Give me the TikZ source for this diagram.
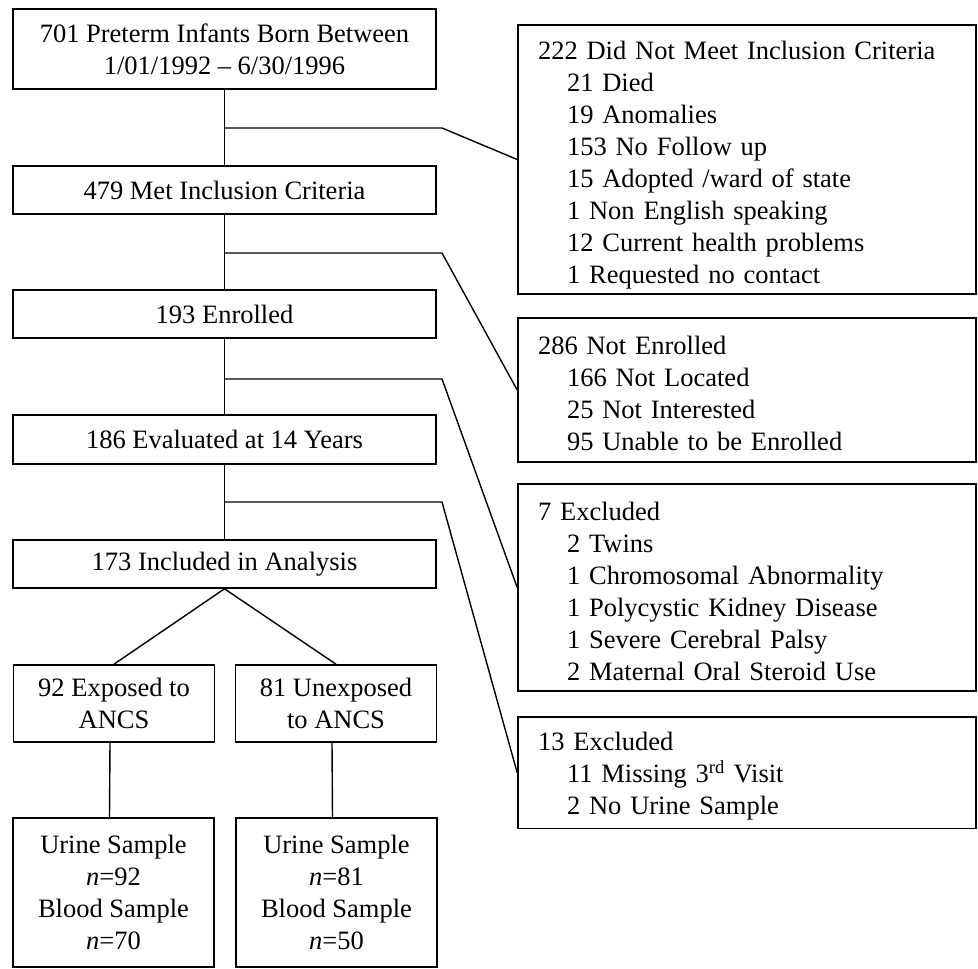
\documentclass[tikz,border=0pt]{standalone}
\usepackage{fontspec}
\setmainfont{Liberation Serif}
\newcommand{\indt}{\hspace*{29pt}}

\tikzset{
  mainbox/.style={draw, line width=1.6pt, minimum width=423pt, align=center, inner sep=0pt},
  sidebox/.style={draw, line width=1.6pt, minimum width=458pt, text width=418pt, inner xsep=20pt, inner ysep=0pt, align=left},
  subbox/.style={draw, line width=1.6pt, minimum width=201pt, align=center, inner sep=0pt},
  link/.style={line width=1.4pt}
}

\begin{document}
\begin{tikzpicture}[x=1pt, y=-1pt, font=\fontsize{26.5}{32}\selectfont]
\useasboundingbox (0,0) rectangle (978,969);
\node[mainbox, minimum height=80pt] (n701) at (224.5,49) {701 Preterm Infants Born Between\\1/01/1992 -- 6/30/1996};
\node[mainbox, minimum height=48pt] (n479) at (224.5,190) {479 Met Inclusion Criteria};
\node[mainbox, minimum height=48pt] (n193) at (224.5,314) {193 Enrolled};
\node[mainbox, minimum height=49pt] (n186) at (224.5,439.5) {186 Evaluated at 14 Years};
\node[mainbox, minimum height=48pt] (n173) at (224.5,564) {173 Included in Analysis};
\node[subbox, minimum height=77pt] (exp) at (114,703.5) {92 Exposed to\\ANCS};
\node[subbox, minimum height=77pt] (unexp) at (336,703.5) {81 Unexposed\\to ANCS};
\node[subbox, minimum height=149pt] (smpexp) at (113.5,892.5) {Urine Sample\\\textit{n}=92\\Blood Sample\\\textit{n}=70};
\node[subbox, minimum height=149pt] (smpunexp) at (336.5,892.5) {Urine Sample\\\textit{n}=81\\Blood Sample\\\textit{n}=50};

\node[sidebox, minimum height=269pt] (r222) at (747,159.5) {\rule{0pt}{30pt}222 Did Not Meet Inclusion Criteria\\\indt 21 Died\\\indt 19 Anomalies\\\indt 153 No Follow up\\\indt 15 Adopted /ward of state\\\indt 1 Non English speaking\\\indt 12 Current health problems\\\indt 1 Requested no contact};
\node[sidebox, minimum height=144pt] (r286) at (747,390) {\rule{0pt}{26pt}286 Not Enrolled\\\indt 166 Not Located\\\indt 25 Not Interested\\\indt 95 Unable to be Enrolled};
\node[sidebox, minimum height=207pt] (r7) at (747,587.5) {\rule{0pt}{26pt}7 Excluded\\\indt 2 Twins\\\indt 1 Chromosomal Abnormality\\\indt 1 Polycystic Kidney Disease\\\indt 1 Severe Cerebral Palsy\\\indt 2 Maternal Oral Steroid Use};
\node[sidebox, minimum height=111.5pt] (r13) at (747,772.75) {\rule{0pt}{26pt}13 Excluded\\\indt 11 Missing 3\textsuperscript{rd} Visit\\\indt 2 No Urine Sample};

\coordinate (j1) at (224.5,128);
\coordinate (j2) at (224.5,253);
\coordinate (j3) at (224.5,379);
\coordinate (j4) at (224.5,502);
\coordinate (k1) at (442,128);
\coordinate (k2) at (442,253);
\coordinate (k3) at (442,379);
\coordinate (k4) at (442,502);

\draw[link] (n701.south) -- (n479.north);
\draw[link] (n479.south) -- (n193.north);
\draw[link] (n193.south) -- (n186.north);
\draw[link] (n186.south) -- (n173.north);
\draw[link] (j1) -- (k1) -- (r222.west);
\draw[link] (j2) -- (k2) -- (r286.west);
\draw[link] (j3) -- (k3) -- (r7.west);
\draw[link] (j4) -- (k4) -- (r13.west);
\draw[link] (n173.south) -- (exp.north);
\draw[link] (n173.south) -- (unexp.north);
\draw[link] ([xshift=-4pt]exp.south) -- ([xshift=-4pt]smpexp.north);
\draw[link] ([xshift=-4pt]unexp.south) -- ([xshift=-4pt]smpunexp.north);
\end{tikzpicture}
\end{document}
